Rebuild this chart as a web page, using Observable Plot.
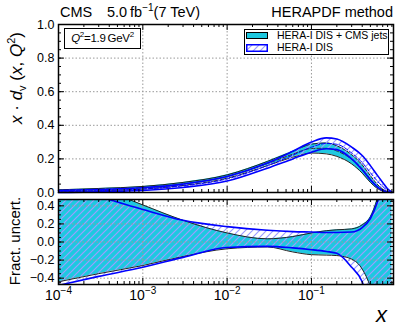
<!DOCTYPE html>
<html><head><meta charset="utf-8">
<script src="https://cdn.jsdelivr.net/npm/d3@7"></script>
<script src="https://cdn.jsdelivr.net/npm/@observablehq/plot@0.6"></script>
<style>
body{margin:0;background:#fff;font-family:"Liberation Sans",Arial,sans-serif;}
#wrap{position:relative;width:399px;height:332px;overflow:hidden;background:#fff;}
#wrap > svg{position:absolute;left:0;}
.t{position:absolute;white-space:nowrap;color:#000;line-height:1;}
</style></head><body>
<svg width="0" height="0" style="position:absolute">
<defs>
<pattern id="hatch" patternUnits="userSpaceOnUse" width="7" height="7">
<path d="M-1,1 l2,-2 M0,7 l7,-7 M6,8 l2,-2" stroke="#9d9dff" stroke-width="1.2"/>
</pattern>
</defs>
</svg>
<div id="wrap"></div>
<script>
// ---- data ----
const xs       = [1e-4, 3e-4, 1e-3, 3e-3, 0.01, 0.03, 0.06, 0.1, 0.15, 0.2, 0.3, 0.4, 0.5, 0.6, 0.7, 0.8, 0.9];
// top panel: x * d_v(x, Q^2)
const jetsLo   = [0.004, 0.010, 0.020, 0.042, 0.085, 0.160, 0.210, 0.235, 0.230, 0.215, 0.170, 0.115, 0.060, 0.025, 0.008, 0.001, 0.000];
const jetsHi   = [0.016, 0.024, 0.036, 0.060, 0.105, 0.185, 0.245, 0.288, 0.295, 0.278, 0.225, 0.165, 0.100, 0.050, 0.020, 0.005, 0.001];
const jetsMid  = [0.010, 0.017, 0.028, 0.051, 0.095, 0.172, 0.228, 0.262, 0.263, 0.247, 0.198, 0.140, 0.080, 0.037, 0.014, 0.003, 0.0005];
const disLo    = [0.000, 0.004, 0.012, 0.030, 0.068, 0.145, 0.200, 0.240, 0.260, 0.255, 0.200, 0.135, 0.075, 0.035, 0.012, 0.003, 0.000];
const disHi    = [0.012, 0.018, 0.028, 0.050, 0.095, 0.175, 0.245, 0.300, 0.325, 0.318, 0.270, 0.220, 0.160, 0.105, 0.060, 0.022, 0.004];
const disMid   = [0.006, 0.011, 0.020, 0.040, 0.081, 0.160, 0.222, 0.270, 0.292, 0.287, 0.235, 0.178, 0.118, 0.070, 0.036, 0.012, 0.002];
// bottom panel: fractional uncertainties
const jetsFHi  = [0.75, 0.60, 0.41, 0.24, 0.10, 0.035, 0.06, 0.10, 0.125, 0.135, 0.145, 0.19, 0.28, 0.47, 0.70, 0.90, 1.00];
const jetsFLo  = [-0.44, -0.35, -0.26, -0.16, -0.075, -0.055, -0.11, -0.14, -0.145, -0.15, -0.19, -0.30, -0.50, -0.80, -1, -1, -1];
const disFHi   = [0.60, 0.50, 0.36, 0.24, 0.17, 0.13, 0.115, 0.11, 0.105, 0.105, 0.11, 0.16, 0.26, 0.43, 0.65, 0.90, 1.10];
const disFLo   = [-0.48, -0.38, -0.28, -0.17, -0.06, -0.048, -0.065, -0.085, -0.105, -0.125, -0.28, -0.44, -0.75, -1, -1, -1, -1];
// ticks
const xMajor   = [1e-4, 1e-3, 1e-2, 1e-1];
const xMinor   = [2,3,4,5,6,7,8,9].flatMap(m => [1e-4, 1e-3, 1e-2, 1e-1].map(d => m * d));
const yTopTicks = [0, 0.2, 0.4, 0.6, 0.8, 1.0];
const yTopMinor = d3.range(0, 1.0001, 0.05);
const yBotTicks = [-0.4, -0.2, 0, 0.2, 0.4];
const yBotMinor = d3.range(-0.45, 0.4501, 0.05);
const seriesNames = ["HERA-I DIS + CMS jets", "HERA-I DIS"];

const CYAN = "#1ec8e0";
const FONT = "Liberation Sans, Arial, sans-serif";
const curve = "monotone-x";

const rows = xs.map((x, i) => ({x, jLo: jetsLo[i], jHi: jetsHi[i], jMid: jetsMid[i],
  dLo: disLo[i], dHi: disHi[i], dMid: disMid[i],
  fjHi: jetsFHi[i], fjLo: jetsFLo[i], fdHi: disFHi[i], fdLo: disFLo[i]}));

const W = 399, ML = 58, MR = 6;
const IW = W - ML - MR;
const xDomain = [1e-4, 0.94];

function frameTicks(innerH, yMaj, yMin) {
  return [
    Plot.ruleX(xMinor, {insetTop: innerH - 3, stroke: "black"}),
    Plot.ruleX(xMinor, {insetBottom: innerH - 3, stroke: "black"}),
    Plot.ruleX(xMajor, {insetTop: innerH - 6, stroke: "black"}),
    Plot.ruleX(xMajor, {insetBottom: innerH - 6, stroke: "black"}),
    Plot.ruleY(yMin, {insetRight: IW - 3, stroke: "black"}),
    Plot.ruleY(yMin, {insetLeft: IW - 3, stroke: "black"}),
    Plot.ruleY(yMaj, {insetRight: IW - 6, stroke: "black"}),
    Plot.ruleY(yMaj, {insetLeft: IW - 6, stroke: "black"})
  ];
}

// ---- top panel ----
const topH = 196, topMT = 24, topMB = 4;
const topPlot = Plot.plot({
  width: W, height: topH, marginLeft: ML, marginRight: MR, marginTop: topMT, marginBottom: topMB,
  x: {type: "log", domain: xDomain, axis: null, label: null},
  y: {domain: [0, 1], axis: null, label: null},
  style: {fontFamily: FONT, fontSize: "14px", background: "transparent", overflow: "visible"},
  marks: [
    Plot.gridX(xMajor, {stroke: "#999", strokeOpacity: 1, strokeDasharray: "1.5,2"}),
    Plot.gridY([0.2, 0.4, 0.6, 0.8], {stroke: "#999", strokeOpacity: 1, strokeDasharray: "1.5,2"}),
    Plot.areaY(rows, {x: "x", y1: "jLo", y2: "jHi", fill: CYAN, curve}),
    Plot.line(rows, {x: "x", y: "jLo", stroke: "#222", strokeWidth: 1, curve}),
    Plot.line(rows, {x: "x", y: "jHi", stroke: "#222", strokeWidth: 1, curve}),
    Plot.areaY(rows, {x: "x", y1: "dLo", y2: "dHi", fill: "url(#hatch)", curve}),
    Plot.line(rows, {x: "x", y: "jMid", stroke: "#333", strokeWidth: 1, strokeDasharray: "4,2", curve}),
    Plot.line(rows, {x: "x", y: "dMid", stroke: "blue", strokeWidth: 1, strokeDasharray: "4,2", curve}),
    Plot.line(rows, {x: "x", y: "dLo", stroke: "blue", strokeWidth: 1.6, curve}),
    Plot.line(rows, {x: "x", y: "dHi", stroke: "blue", strokeWidth: 1.6, curve}),
    Plot.axisY(yTopTicks, {anchor: "left", label: null, tickSize: 0, tickPadding: 4, tickFormat: d3.format(".1f"), fontSize: 12.5}),
    ...frameTicks(topH - topMT - topMB, yTopTicks, yTopMinor),
    Plot.frame({stroke: "black", strokeWidth: 1.5})
  ]
});
topPlot.style.top = "0px";

// ---- bottom panel ----
const botTop = 196, botH = 136, botMT = 3, botMB = 48;
const botPlot = Plot.plot({
  width: W, height: botH, marginLeft: ML, marginRight: MR, marginTop: botMT, marginBottom: botMB,
  x: {type: "log", domain: xDomain, axis: null, label: null},
  y: {domain: [-0.47, 0.47], axis: null, label: null},
  clip: true,
  style: {fontFamily: FONT, fontSize: "14px", background: "transparent", overflow: "visible"},
  marks: [
    Plot.areaY(rows, {x: "x", y1: "fjLo", y2: "fjHi", fill: CYAN, curve, clip: true}),
    Plot.areaY(rows, {x: "x", y1: "fdLo", y2: "fdHi", fill: "url(#hatch)", curve, clip: true}),
    Plot.gridX(xMajor, {stroke: "#999", strokeOpacity: 1, strokeDasharray: "1.5,2"}),
    Plot.gridY(yBotTicks, {stroke: "#999", strokeOpacity: 1, strokeDasharray: "1.5,2"}),
    Plot.line(rows, {x: "x", y: "fjLo", stroke: "#222", strokeWidth: 1, curve, clip: true}),
    Plot.line(rows, {x: "x", y: "fjHi", stroke: "#222", strokeWidth: 1, curve, clip: true}),
    Plot.line(rows, {x: "x", y: "fdLo", stroke: "blue", strokeWidth: 1.6, curve, clip: true}),
    Plot.line(rows, {x: "x", y: "fdHi", stroke: "blue", strokeWidth: 1.6, curve, clip: true}),
    Plot.axisY(yBotTicks, {anchor: "left", label: null, tickSize: 0, tickPadding: 4, tickFormat: d3.format(".1f"), fontSize: 12.5}),
    Plot.axisX(xMajor, {anchor: "bottom", label: null, tickSize: 0, tickPadding: 6, fontSize: 14,
      tickFormat: d => "10^" + Math.round(Math.log10(d))}),
    ...frameTicks(botH - botMT - botMB, yBotTicks, yBotMinor),
    Plot.frame({stroke: "black", strokeWidth: 1.5})
  ]
});
botPlot.style.top = botTop + "px";

// superscript exponents on the x tick labels
botPlot.querySelectorAll("text").forEach(t => {
  const s = t.textContent;
  if (s.startsWith("10^")) {
    const e = s.slice(3).replace("-", "\u2212");
    t.textContent = "10";
    const ts = document.createElementNS("http://www.w3.org/2000/svg", "tspan");
    ts.setAttribute("dy", "-6");
    ts.setAttribute("font-size", "10");
    ts.textContent = e;
    t.appendChild(ts);
  }
});

const wrap = document.getElementById("wrap");
wrap.appendChild(topPlot);
wrap.appendChild(botPlot);

// ---- texts, legend ----
wrap.insertAdjacentHTML("beforeend", `
<div class="t" style="left:60px;top:5px;font-size:14.5px;">CMS</div>
<div class="t" style="left:107px;top:5px;font-size:14.5px;">5.0&thinsp;fb<sup style="font-size:10px;vertical-align:6px;line-height:0">&minus;1</sup>(7 TeV)</div>
<div class="t" style="right:6px;top:5px;font-size:14.5px;">HERAPDF method</div>
<div class="t" style="left:64px;top:28px;width:77px;height:21px;border:1px solid #000;box-sizing:border-box;font-size:11.5px;line-height:19px;text-align:center;letter-spacing:-0.3px;"><i>Q</i><sup style="font-size:8px;vertical-align:5px;line-height:0">2</sup>=1.9&thinsp;GeV<sup style="font-size:8px;vertical-align:5px;line-height:0">2</sup></div>
<div class="t" style="left:244px;top:29px;width:145px;height:26px;border:1px solid #000;box-sizing:border-box;background:#fff;"></div>
<div class="t" style="left:246px;top:32px;width:22px;height:7px;background:${CYAN};border:1px solid #000;box-sizing:border-box;"></div>
<svg class="t" style="left:246px;top:44px;" width="22" height="8"><rect x="0.75" y="0.75" width="20.5" height="6.5" fill="url(#hatch)" stroke="blue" stroke-width="1.5"/></svg>
<div class="t" style="left:277px;top:30px;font-size:10.5px;">${seriesNames[0]}</div>
<div class="t" style="left:277px;top:42px;font-size:10.5px;">${seriesNames[1]}</div>
<div class="t" style="left:16px;top:78px;font-size:17px;transform:translate(-50%,-50%) rotate(-90deg);"><i>x</i> &middot; <i>d</i><sub style="font-size:11px;line-height:0">v</sub> (<i>x</i>, <i>Q</i><sup style="font-size:11px;line-height:0">2</sup>)</div>
<div class="t" style="left:14px;top:241px;font-size:15px;transform:translate(-50%,-50%) rotate(-90deg);">Fract. uncert.</div>
<div class="t" style="left:376px;top:304px;font-size:22px;"><i>x</i></div>
`);
</script>
</body></html>
